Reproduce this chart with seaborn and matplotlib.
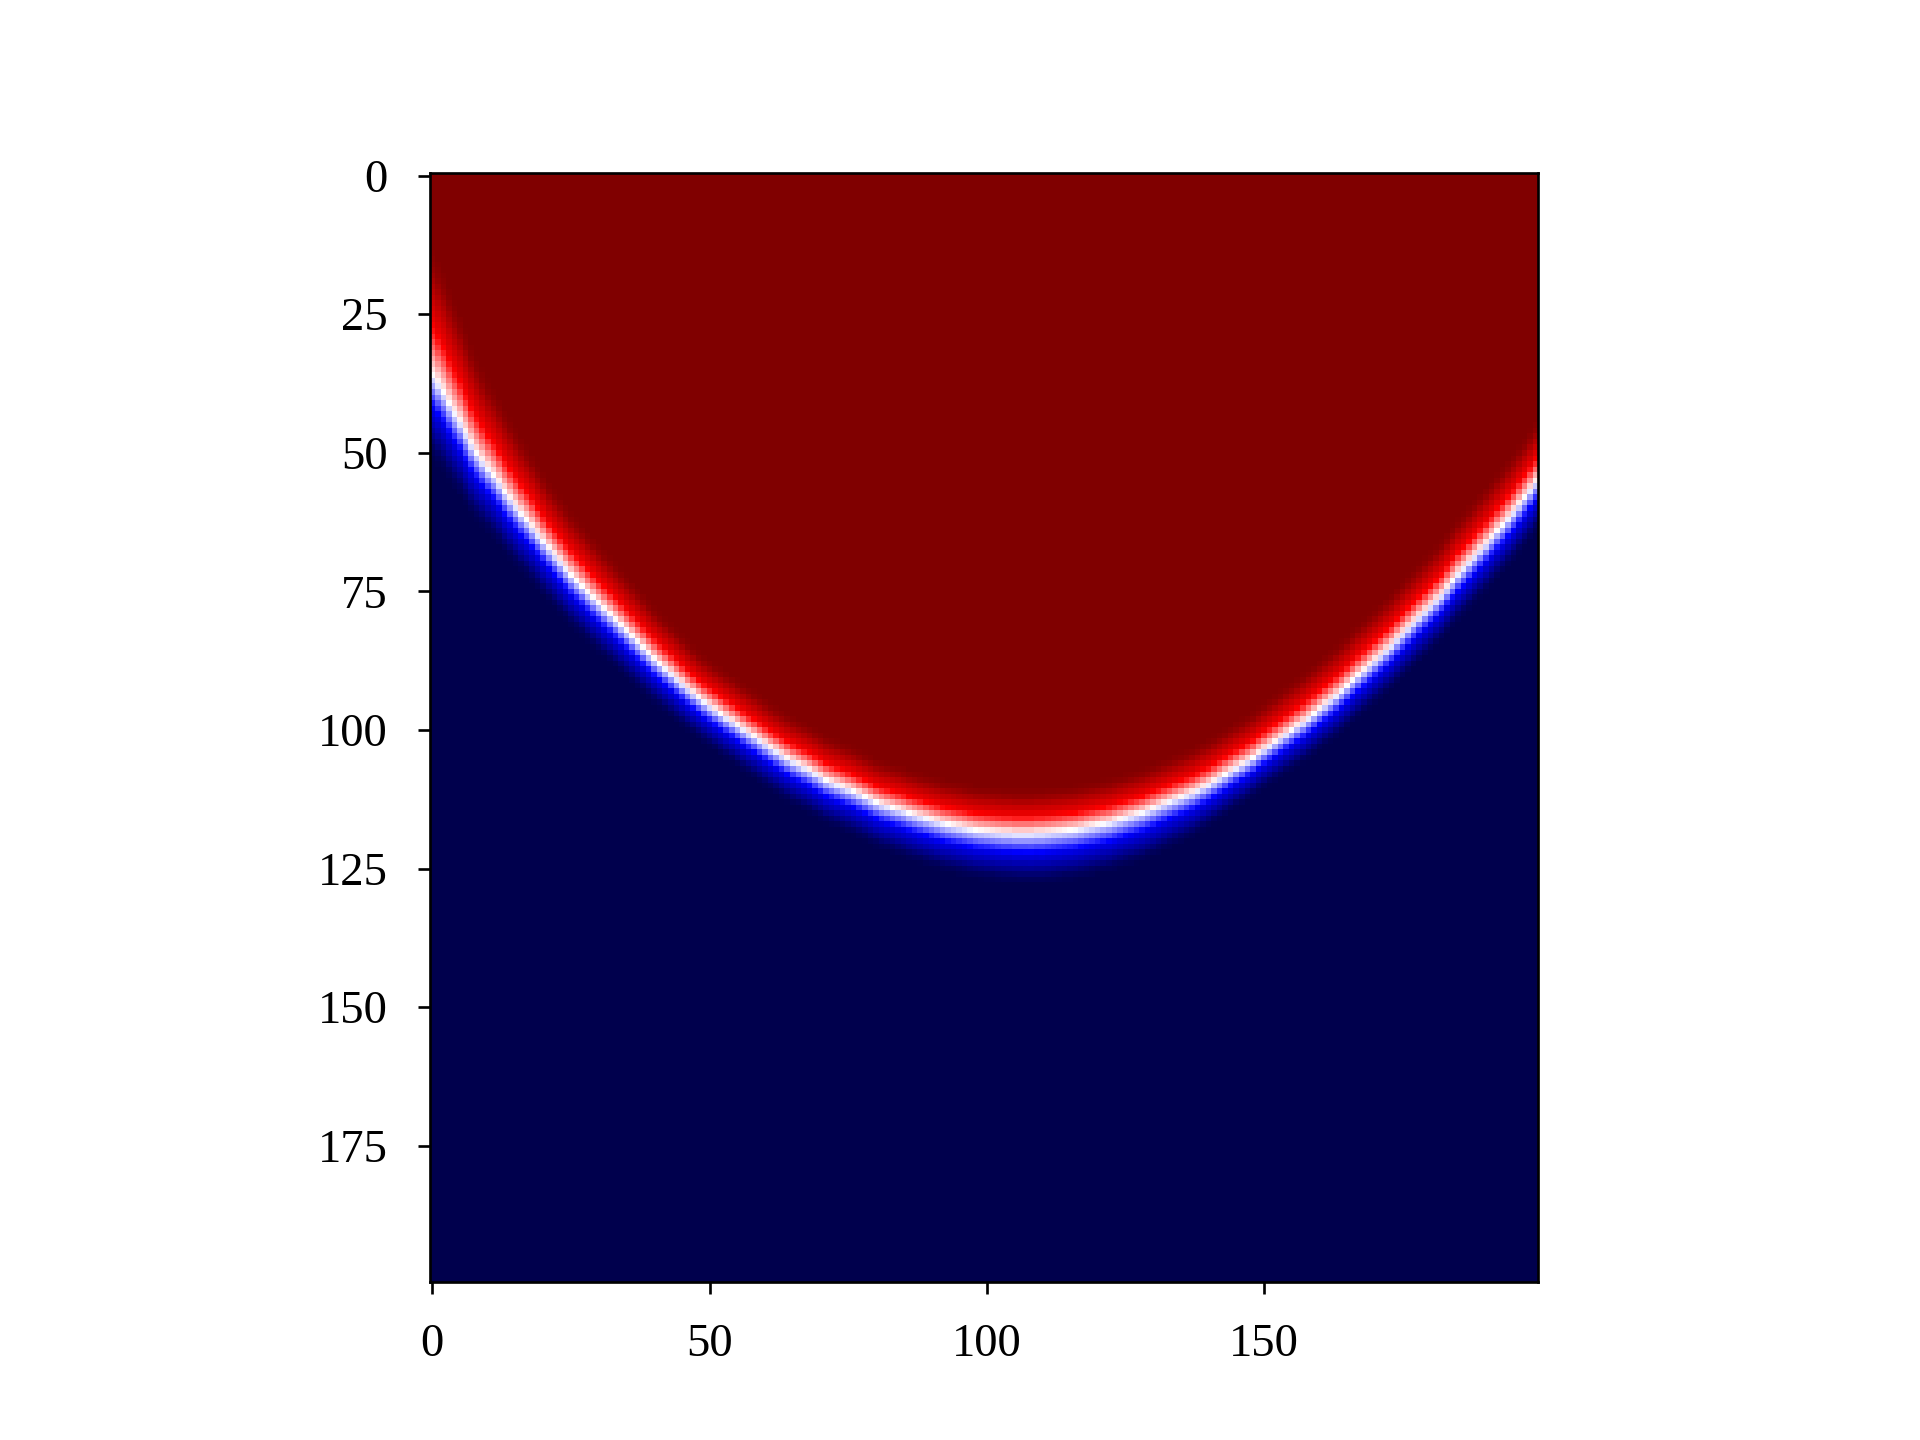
import numpy as np
import matplotlib
matplotlib.use("Agg")
import matplotlib.pyplot as plt
import seaborn as sns

# White (mid-value) line: row of the field's 0.5 level in each of the 200 columns
boundary_row = [
    36.0, 37.5, 39.0, 41.0, 42.8, 44.4, 46.4, 48.4, 50.0, 51.4,
    52.8, 54.0, 55.4, 57.0, 58.3, 59.6, 60.9, 62.0, 63.3, 64.6,
    65.9, 67.2, 68.4, 69.6, 70.8, 72.0, 73.0, 74.0, 75.1, 76.1,
    77.1, 78.1, 79.1, 80.1, 81.1, 82.1, 83.1, 84.1, 85.1, 86.1,
    87.1, 88.0, 88.9, 89.8, 90.7, 91.6, 92.5, 93.3, 94.1, 94.9,
    95.6, 96.3, 97.0, 97.7, 98.4, 99.1, 99.8, 100.5, 101.1, 101.8,
    102.5, 103.2, 103.8, 104.5, 105.1, 105.7, 106.2, 106.7, 107.2, 107.8,
    108.4, 109.0, 109.4, 109.8, 110.2, 110.6, 111.0, 111.5, 112.0, 112.5,
    113.0, 113.4, 113.7, 114.0, 114.3, 114.6, 115.0, 115.3, 115.6, 115.9,
    116.2, 116.5, 116.8, 117.0, 117.2, 117.4, 117.6, 117.8, 118.0, 118.1,
    118.2, 118.3, 118.4, 118.5, 118.5, 118.6, 118.6, 118.6, 118.6, 118.5,
    118.5, 118.4, 118.3, 118.2, 118.1, 118.0, 117.9, 117.7, 117.5, 117.3,
    117.1, 116.9, 116.7, 116.4, 116.1, 115.8, 115.5, 115.2, 114.9, 114.5,
    114.1, 113.7, 113.3, 112.9, 112.5, 112.1, 111.7, 111.3, 110.8, 110.3,
    109.8, 109.2, 108.6, 108.0, 107.4, 106.8, 106.2, 105.6, 105.0, 104.2,
    103.5, 102.8, 102.1, 101.4, 100.7, 100.0, 99.3, 98.6, 97.8, 97.0,
    96.2, 95.4, 94.6, 93.8, 92.9, 92.0, 91.0, 90.1, 89.2, 88.3,
    87.4, 86.5, 85.6, 84.7, 83.6, 82.6, 81.6, 80.6, 79.6, 78.6,
    77.6, 76.6, 75.6, 74.3, 73.0, 71.8, 70.8, 69.7, 68.6, 67.5,
    66.4, 65.2, 64.0, 63.0, 61.8, 60.6, 59.3, 58.0, 56.7, 55.3,
]

# Vertical extent of the red and blue bands, read at a few columns
width_cols = [0, 10, 21, 48, 80, 110, 130, 148, 175, 199]
red_extent = [19.5, 13.5, 10.2, 7.2, 6.8, 6.8, 6.8, 7.2, 8.2, 9.2]
blue_extent = [13, 10, 8.4, 6.5, 7, 8, 7.5, 6.1, 7, 7.8]

# Colour-value ramp across a band
ramp_pos = [0, 0.5, 1.0, 1.2]
ramp_val = [0, 0.29, 0.47, 0.5]

tick_labels_x = [0, 50, 100, 150]
tick_labels_y = [0, 25, 50, 75, 100, 125, 150, 175]

plt.rcParams["font.family"] = ["Liberation Serif", "DejaVu Serif"]
plt.rcParams["font.size"] = 14

n = len(boundary_row)
cols = np.arange(n)
rows = np.arange(n)[:, None]
d = np.asarray(boundary_row)[None, :] - rows
red_w = np.interp(cols, width_cols, red_extent)[None, :]
blue_w = np.interp(cols, width_cols, blue_extent)[None, :]
field = np.where(
    d >= 0,
    0.5 + np.interp(d / red_w, ramp_pos, ramp_val),
    0.5 - np.interp(-d / blue_w, ramp_pos, ramp_val),
)

fig, ax = plt.subplots(figsize=(8, 6), dpi=240)
sns.heatmap(field, ax=ax, cmap="seismic", vmin=0, vmax=1, cbar=False,
            square=True, linewidths=0, rasterized=True)
ax.set_xticks(np.array(tick_labels_x) + 0.5, labels=[str(v) for v in tick_labels_x], rotation=0)
ax.set_yticks(np.array(tick_labels_y) + 0.5, labels=[str(v) for v in tick_labels_y], rotation=0,
              va="center_baseline")
for side in ax.spines.values():
    side.set_visible(True)
    side.set_color("black")
    side.set_linewidth(0.8)
ax.tick_params(length=3.5, width=0.8, labelsize=14, pad=9)
fig.savefig("out.png", dpi=240)
